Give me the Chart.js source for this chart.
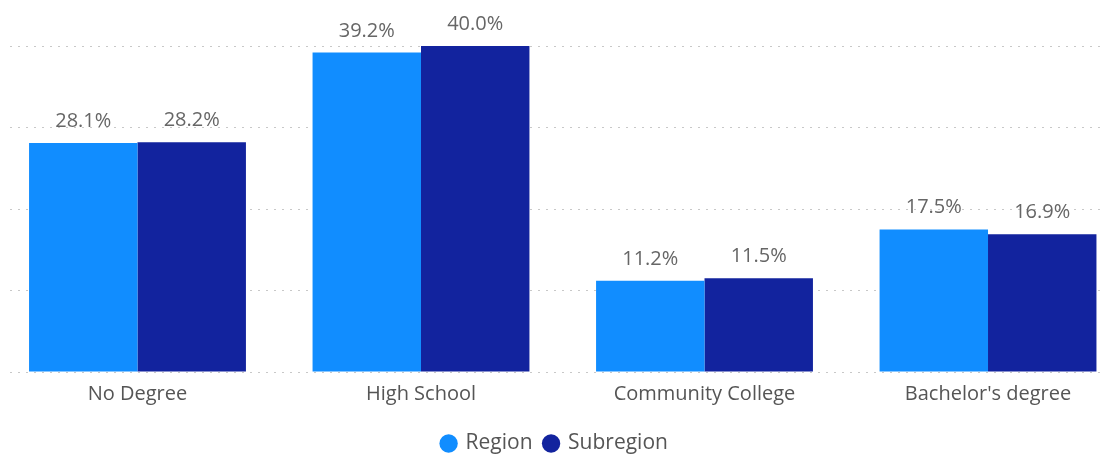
<!DOCTYPE html>
<html>
<head>
<meta charset="utf-8">
<script src="https://cdn.jsdelivr.net/npm/chart.js@4"></script>
<style>
  html, body { margin: 0; padding: 0; background: #ffffff; }
  #wrap { width: 1107px; height: 455px; }
</style>
</head>
<body>
<div id="wrap"><canvas id="eduChart" width="1107" height="455"></canvas></div>
<script>
// categorias e valores (percentuais)
const categories = ['No Degree', 'High School', 'Community College', "Bachelor's degree"];
const regionValues = [28.1, 39.2, 11.2, 17.5];
const subregionValues = [28.2, 40.0, 11.5, 16.9];
const seriesNames = ['Region', 'Subregion'];

const fontFamily = '"Open Sans", "Noto Sans", sans-serif';

// rótulos de valor acima de cada barra
const valueLabels = {
    id: 'valueLabels',
    afterDatasetsDraw(chart) {
        const ctx = chart.ctx;
        ctx.save();
        ctx.font = '20px ' + fontFamily;
        ctx.fillStyle = '#666666';
        ctx.textAlign = 'center';
        ctx.textBaseline = 'alphabetic';
        chart.data.datasets.forEach((ds, di) => {
            const meta = chart.getDatasetMeta(di);
            meta.data.forEach((bar, i) => {
                ctx.fillText(ds.data[i].y.toFixed(1) + '%', bar.x, bar.y - 16);
            });
        });
        ctx.restore();
    }
};

const toPoints = (vals) => vals.map((v, i) => ({ x: i, y: v }));

new Chart(document.getElementById('eduChart').getContext('2d'), {
    type: 'bar',
    data: {
        datasets: [
            { label: seriesNames[0], data: toPoints(regionValues), backgroundColor: '#118DFF' },
            { label: seriesNames[1], data: toPoints(subregionValues), backgroundColor: '#12239E' },
        ],
    },
    options: {
        responsive: false,
        animation: false,
        layout: { padding: { left: 10, right: 7, top: 46, bottom: -9 } },
        datasets: { bar: { categoryPercentage: 0.765, barPercentage: 1.0 } },
        plugins: {
            legend: {
                position: 'bottom',
                labels: {
                    usePointStyle: true,
                    pointStyle: 'circle',
                    boxWidth: 13,
                    boxHeight: 13,
                    padding: 12,
                    color: '#555555',
                    font: { size: 21, family: fontFamily },
                },
            },
            tooltip: { enabled: false },
        },
        scales: {
            x: {
                type: 'linear',
                offset: false,
                min: -0.4497,
                max: 3.395,
                afterBuildTicks: (scale) => {
                    scale.ticks = categories.map((c, i) => ({ value: i }));
                },
                afterFit: (scale) => { scale.height = 49; },
                ticks: {
                    autoSkip: false,
                    maxRotation: 0,
                    padding: 2,
                    color: '#555555',
                    font: { size: 20, family: fontFamily },
                    callback: (v) => categories[v],
                },
                grid: { display: false, offset: false },
                border: { display: false },
            },
            y: {
                min: 0,
                max: 40,
                ticks: { display: false, stepSize: 10 },
                grid: { color: '#c8c8c8', lineWidth: 1, drawTicks: false },
                border: { display: false, dash: [2, 6] },
            },
        },
    },
    plugins: [valueLabels],
});
</script>
</body>
</html>
